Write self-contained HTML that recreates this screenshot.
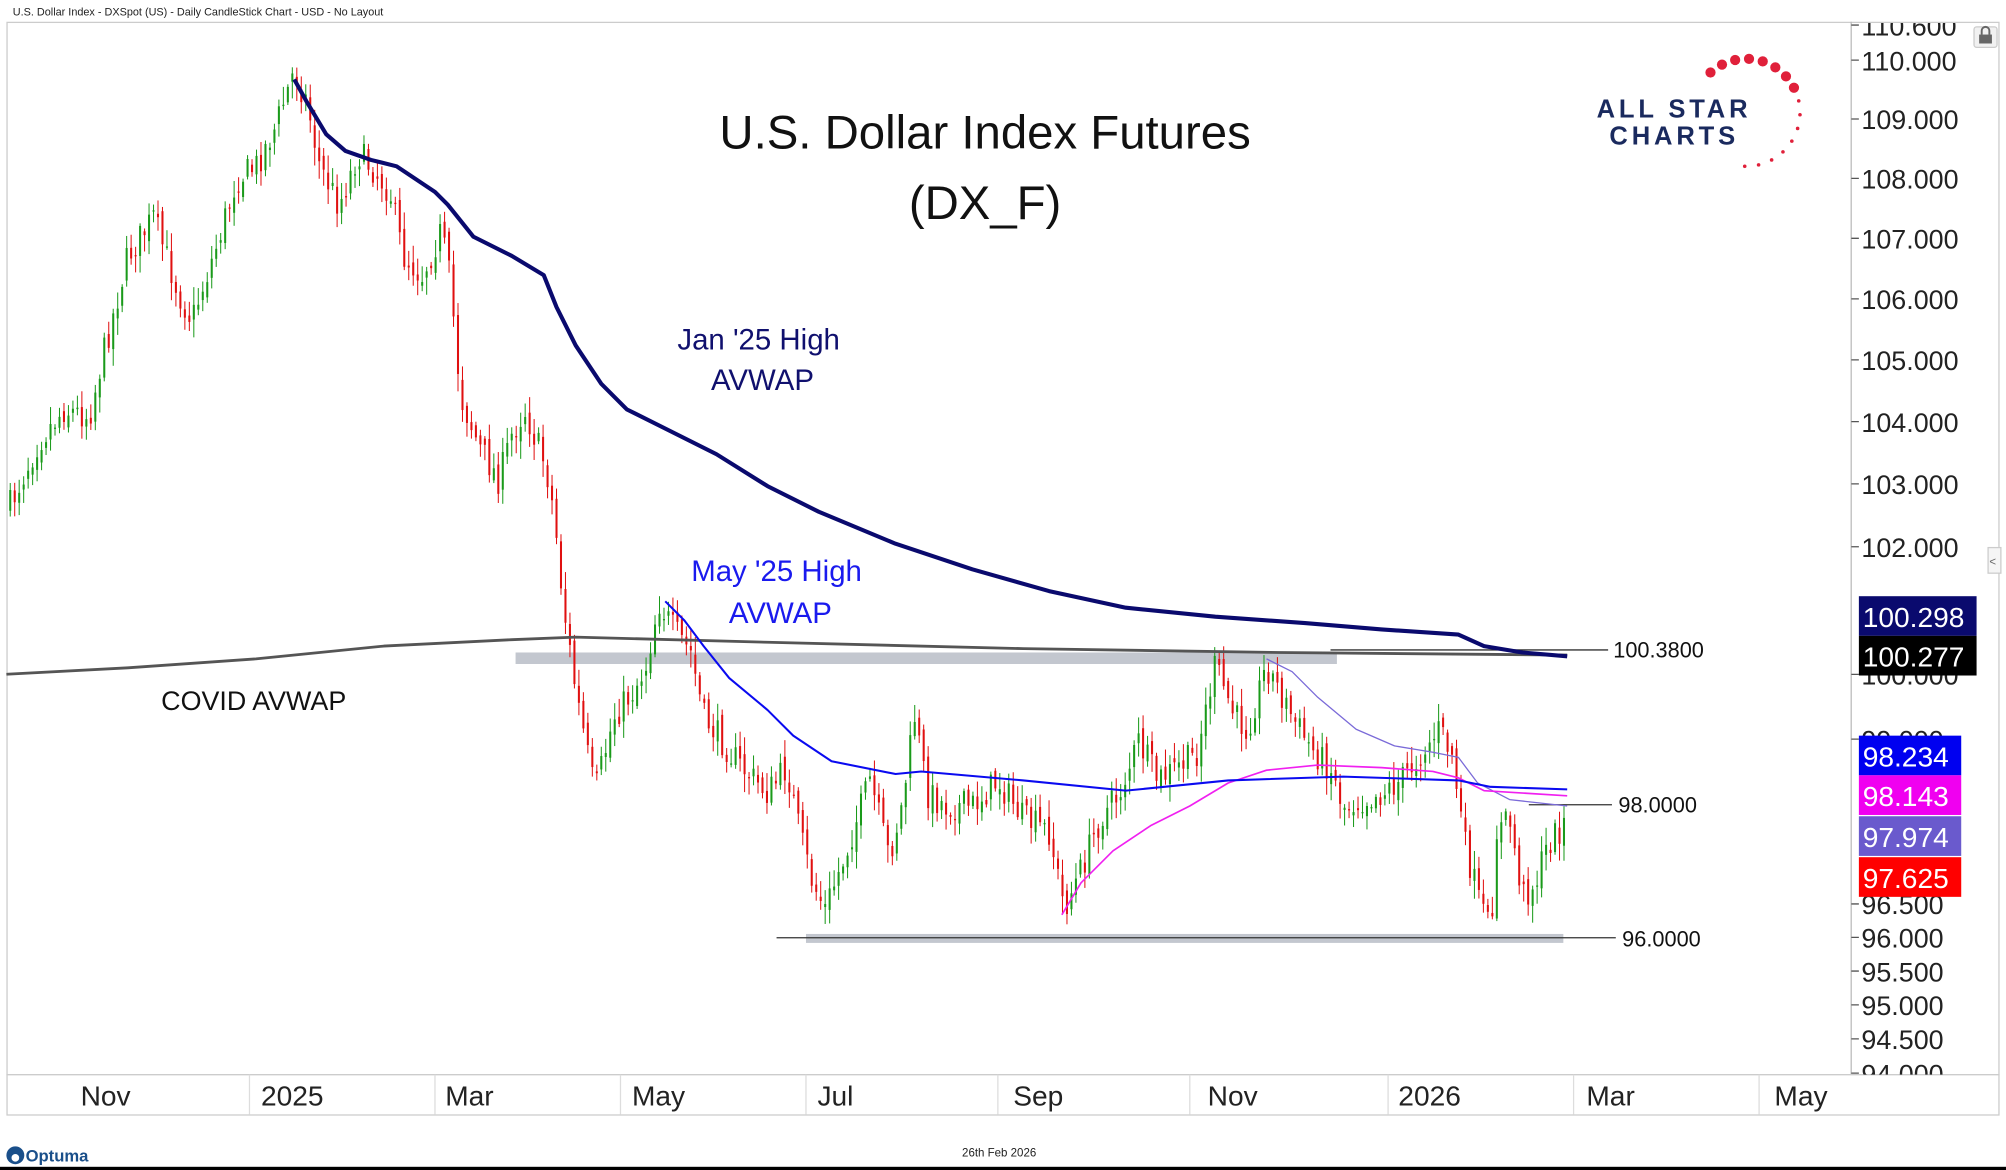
<!DOCTYPE html>
<html><head><meta charset="utf-8"><style>
html,body{margin:0;padding:0;background:#fff;}
svg{display:block;font-family:"Liberation Sans",sans-serif;}
</style></head><body>
<svg id="s" width="2006" height="1170" viewBox="0 0 1568 914.5" preserveAspectRatio="none" xmlns="http://www.w3.org/2000/svg">
<defs><clipPath id="ac"><rect x="1447" y="18" width="120" height="822"/></clipPath></defs>
<rect width="1568" height="915" fill="#fff"/>
<text x="10" y="12" font-size="8.5" fill="#222">U.S. Dollar Index - DXSpot (US) - Daily CandleStick Chart - USD - No Layout</text>
<rect x="5.5" y="17.5" width="1557" height="854" fill="none" stroke="#ccc" stroke-width="1"/>
<line x1="1447" y1="17" x2="1447" y2="840" stroke="#bbb"/>
<line x1="5" y1="840" x2="1563" y2="840" stroke="#ccc"/>
<g id="vsep" stroke="#ddd"></g>
<g font-size="22" fill="#222">
<text x="63" y="864">Nov</text><text x="204" y="864">2025</text><text x="348" y="864">Mar</text><text x="494" y="864">May</text><text x="639" y="864">Jul</text><text x="792" y="864">Sep</text><text x="944" y="864">Nov</text><text x="1093" y="864">2026</text><text x="1240" y="864">Mar</text><text x="1387" y="864">May</text>
</g>
<rect x="403" y="510" width="642" height="9" fill="#c3c7cf"/>
<rect x="630" y="730" width="592" height="7" fill="#c3c7cf"/>
<line x1="1040" y1="508" x2="1257" y2="508" stroke="#333" stroke-width="1"/>
<line x1="607" y1="733" x2="1263" y2="733" stroke="#333" stroke-width="1"/>
<line x1="1195" y1="629" x2="1260" y2="629" stroke="#333" stroke-width="1"/>
<g font-size="17" fill="#111"><text x="1261" y="514">100.3800</text><text x="1265" y="635">98.0000</text><text x="1268" y="740">96.0000</text></g>
<g id="candles"></g>
<g id="lines" fill="none"></g>
<g text-anchor="middle" fill="#111" font-size="37"><text x="770" y="116">U.S. Dollar Index Futures</text><text x="770" y="171">(DX_F)</text></g>
<g text-anchor="middle" fill="#10106e" font-size="23"><text x="593" y="273">Jan '25 High</text><text x="596" y="305">AVWAP</text></g>
<g text-anchor="middle" fill="#1a1aee" font-size="23"><text x="607" y="454">May '25 High</text><text x="610" y="487">AVWAP</text></g>
<text x="126" y="555" font-size="21" fill="#111">COVID AVWAP</text>
<g font-size="20" font-weight="bold" fill="#1a2a5e" letter-spacing="3"><text x="1248" y="92">ALL STAR</text><text x="1258" y="113">CHARTS</text></g>
<g id="stars" fill="#e0203a"></g>
<g id="axis" font-size="21" fill="#222" clip-path="url(#ac)"></g>
<rect x="1543" y="21" width="18" height="16" rx="2" fill="#f1f1f1" stroke="#ccc"/>
<rect x="1547" y="27" width="10" height="7" fill="#666"/><path d="M1549 27v-3a3 3 0 0 1 6 0v3" stroke="#666" stroke-width="1.5" fill="none"/>
<rect x="1554" y="428" width="10" height="20" fill="#f5f5f5" stroke="#ccc"/><text x="1555" y="442" font-size="9" fill="#666">&lt;</text>
<g id="boxes" font-size="22" fill="#fff"></g>
<text x="752" y="904" font-size="9" fill="#222">26th Feb 2026</text>
<circle cx="12" cy="903" r="7" fill="#1a4f8a"/><circle cx="12" cy="905" r="3" fill="#fff"/>
<text x="20" y="908" font-size="13" font-weight="bold" fill="#1a4f8a">Optuma</text>
<rect x="0" y="912" width="1568" height="3" fill="#000"/>
</svg>
<script>
var NS="http://www.w3.org/2000/svg";
function el(p,t,a,txt){var e=document.createElementNS(NS,t);for(var k in a)e.setAttribute(k,a[k]);if(txt)e.textContent=txt;document.getElementById(p).appendChild(e);return e;}
function Y(p){return 47+(Math.log(110)-Math.log(p))*5037;}
var ticks=[110.6,110,109,108,107,106,105,104,103,102,100,99,96.5,96,95.5,95,94.5,94];
ticks.forEach(function(t){var y=Y(t);el("axis","line",{x1:1447,y1:y,x2:1453,y2:y,stroke:"#555"});el("axis","text",{x:1455,y:y+8},t.toFixed(3));});
[195,340,485,630,780,930,1085,1230,1375].forEach(function(x){el("vsep","line",{x1:x,y1:840,x2:x,y2:871});});
[[466,"#0a0a6e","100.298",92],[497,"#000","100.277",92],[575,"#0000f0","98.234",80],[606,"#f000f0","98.143",80],[638,"#6a5acd","97.974",80],[670,"#f00","97.625",80]].forEach(function(b){el("boxes","rect",{x:1453,y:b[0],width:b[3],height:31,fill:b[1]});el("boxes","text",{x:1456,y:b[0]+24},b[2]);});
for(var i=0;i<16;i++){var a=-2.3+i*0.26;var cx=1365+42*Math.cos(a),cy=88+42*Math.sin(a);var r=i<8?4:1.4;el("stars","circle",{cx:cx,cy:cy,r:r});}
var P=[[8,395],[30,345],[50,320],[70,325],[80,280],[100,200],[120,170],[140,230],[150,250],[170,190],[185,140],[200,130],[215,100],[230,55],[240,80],[250,130],[265,160],[280,120],[290,130],[305,150],[315,200],[330,215],[345,180],[352,220],[360,310],[375,350],[390,375],[400,340],[410,320],[425,360],[430,380],[435,420],[440,470],[450,540],[465,620],[480,560],[495,540],[505,520],[515,470],[525,490],[540,510],[550,560],[565,580],[580,600],[600,620],[615,600],[625,650],[635,690],[645,710],[660,670],[680,610],[695,670],[705,630],[715,560],[725,620],[740,630],[760,630],[780,610],[800,640],[820,650],[832,710],[845,680],[860,640],[875,620],[890,580],[905,610],[920,600],[935,590],[950,520],[965,560],[975,570],[990,520],[1000,540],[1010,560],[1025,585],[1040,600],[1050,630],[1065,625],[1080,620],[1095,610],[1110,590],[1125,570],[1135,590],[1145,660],[1155,700],[1165,730],[1170,650],[1180,640],[1190,700],[1200,690],[1210,660],[1225,640]];
function interp(A,x){for(var i=0;i<A.length-1;i++){if(x>=A[i][0]&&x<=A[i+1][0]){var t=(x-A[i][0])/(A[i+1][0]-A[i][0]);return A[i][1]+t*(A[i+1][1]-A[i][1]);}}return A[A.length-1][1];}
var seed=7;function rnd(){seed=(seed*16807)%2147483647;return seed/2147483647;}
var prev=interp(P,8);
for(var x=8;x<=1225;x+=3.5){var c=interp(P,x)+(rnd()-0.5)*24;var o=prev+(rnd()-0.5)*10;var hi=Math.min(o,c)-rnd()*12-2,lo=Math.max(o,c)+rnd()*12+2;var up=c<o;var col=up?"#1a9a1a":"#e01010";
el("candles","line",{x1:x,y1:hi,x2:x,y2:lo,stroke:col,"stroke-width":0.8});
el("candles","rect",{x:x-0.8,y:Math.min(o,c),width:1.6,height:Math.max(1,Math.abs(c-o)),fill:col});prev=c;}
function line(pts,col,w){el("lines","polyline",{points:pts.map(function(p){return p.join(",")}).join(" "),stroke:col,"stroke-width":w,"stroke-linejoin":"round"});}
line([[5,527],[100,522],[200,515],[300,505],[400,500],[450,498],[600,502],[800,507],[1000,510],[1225,512]],"#555",2.2);
line([[990,515],[1010,525],[1030,545],[1060,570],[1090,583],[1120,588],[1140,592],[1155,612],[1180,625],[1225,630]],"#7a6ad8",1);
line([[830,715],[845,690],[870,665],[900,645],[930,630],[960,612],[990,602],[1030,598],[1080,600],[1120,603],[1140,608],[1160,618],[1225,622]],"#f020f0",1.3);
line([[520,470],[535,485],[550,505],[570,530],[600,555],[620,575],[650,595],[700,605],[720,603],[800,610],[880,618],[960,610],[1050,607],[1140,610],[1165,615],[1225,617]],"#0a0af0",1.6);
line([[230,62],[240,80],[255,105],[270,118],[290,125],[310,130],[340,150],[350,160],[370,185],[400,200],[425,215],[435,240],[450,270],[470,300],[490,320],[520,335],[560,355],[600,380],[640,400],[700,425],[760,445],[820,462],[880,475],[950,482],[1020,487],[1080,492],[1140,496],[1160,505],[1190,510],[1225,513]],"#0a0a6e",3.2);
</script>
</body></html>
